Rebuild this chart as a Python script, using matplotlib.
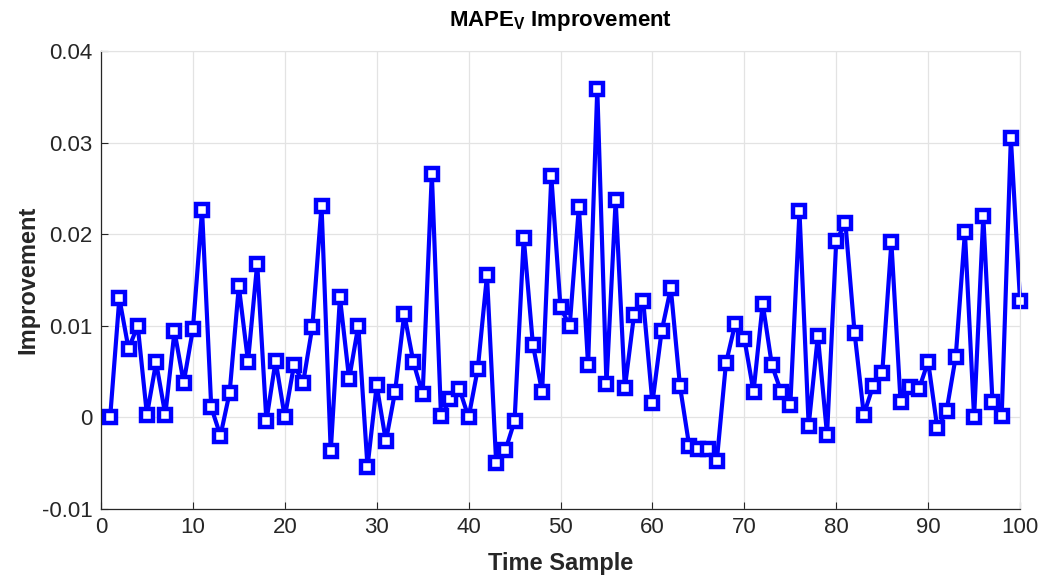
import matplotlib.pyplot as plt
import numpy as np

plt.rcParams['font.family'] = ['Liberation Sans', 'DejaVu Sans']

time_sample = np.arange(1, 101)
improvement = [
    0.0000, 0.0130, 0.0075, 0.0100, 0.0003, 0.0060, 0.0003, 0.0094, 0.0038, 0.0096,
    0.0226, 0.0011, -0.0020, 0.0027, 0.0143, 0.0061, 0.0168, -0.0004, 0.0062, 0.0000,
    0.0057, 0.0038, 0.0099, 0.0231, -0.0037, 0.0131, 0.0042, 0.0100, -0.0054, 0.0035,
    -0.0026, 0.0028, 0.0113, 0.0060, 0.0025, 0.0266, 0.0001, 0.0020, 0.0031, 0.0000,
    0.0053, 0.0155, -0.0050, -0.0036, -0.0004, 0.0196, 0.0079, 0.0028, 0.0263, 0.0120,
    0.0100, 0.0230, 0.0057, 0.0359, 0.0036, 0.0237, 0.0032, 0.0112, 0.0127, 0.0016,
    0.0094, 0.0141, 0.0034, -0.0031, -0.0034, -0.0034, -0.0048, 0.0059, 0.0102, 0.0086,
    0.0028, 0.0124, 0.0057, 0.0028, 0.0013, 0.0225, -0.0009, 0.0089, -0.0019, 0.0193,
    0.0212, 0.0092, 0.0003, 0.0034, 0.0048, 0.0191, 0.0017, 0.0033, 0.0031, 0.0061,
    -0.0012, 0.0007, 0.0066, 0.0202, 0.0000, 0.0220, 0.0017, 0.0001, 0.0305, 0.0127,
]
xticks = np.arange(0, 101, 10)
yticks = [-0.01, 0, 0.01, 0.02, 0.03, 0.04]
ytick_labels = ['-0.01', '0', '0.01', '0.02', '0.03', '0.04']

fig = plt.figure(figsize=(10.43, 5.77), dpi=100)
ax = fig.add_axes([0.0968, 0.1179, 0.8812, 0.7937])

ax.plot(time_sample, improvement, color='#0000ff', linewidth=3.0,
        marker='s', markersize=8, markerfacecolor='white',
        markeredgecolor='#0000ff', markeredgewidth=3.2, clip_on=False)

ax.set_xlim(0, 100)
ax.set_ylim(-0.01, 0.04)
ax.set_xticks(xticks)
ax.set_yticks(yticks)
ax.set_yticklabels(ytick_labels)
ax.grid(True, color='#e3e3e3', linewidth=0.9)
ax.set_axisbelow(True)
ax.tick_params(direction='in', length=5, labelsize=16, colors='#262626', width=0.8, pad=6)
for side in ['top', 'right']:
    ax.spines[side].set_color('#e3e3e3')
for side in ['left', 'bottom']:
    ax.spines[side].set_color('#262626')
    ax.spines[side].set_linewidth(0.9)

ax.set_title(r'MAPE$_\mathregular{V}$ Improvement', fontsize=16, fontweight='bold', pad=18)
ax.set_xlabel('Time Sample', fontsize=17, fontweight='bold', color='#262626', labelpad=10)
ax.set_ylabel('Improvement', fontsize=17, fontweight='bold', color='#262626', labelpad=2)

fig.savefig('out.png', dpi=100)
